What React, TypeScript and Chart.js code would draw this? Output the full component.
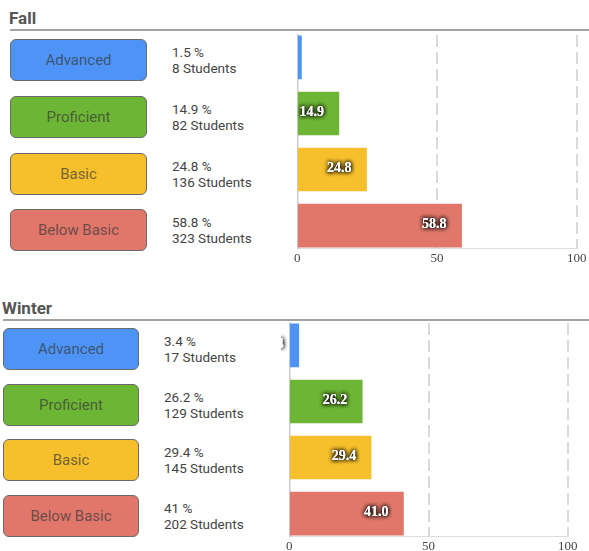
import React, { useEffect, useRef } from "react";
import { Chart, registerables } from "chart.js";

Chart.register(...registerables);

// Performance levels and their colours
const levels = ["Advanced", "Proficient", "Basic", "Below Basic"];
const levelColors = ["#4d94f6", "#6db535", "#f6c02c", "#e0776a"];

// Fall results
const fallPercent = [1.5, 14.9, 24.8, 58.8];
const fallStudents = [8, 82, 136, 323];

// Winter results
const winterPercent = [3.4, 26.2, 29.4, 41];
const winterStudents = [17, 129, 145, 202];

// Percentage axis
const axisMin = 0;
const axisMax = 100;
const axisStep = 50;

type Geometry = {
  headerLeft: number;
  headerTop: number;
  lineLeft: number;
  lineTop: number;
  buttonLeft: number;
  buttonWidth: number;
  buttonTop: number;
  buttonPitch: number;
  textLeft: number;
  canvasLeft: number;
  canvasTop: number;
  areaLeft: number;
  areaTop: number;
  areaRight: number;
  areaBottom: number;
};

const barValueLabels = {
  id: "barValueLabels",
  afterDatasetsDraw(chart: any) {
    const { ctx } = chart;
    const meta = chart.getDatasetMeta(0);
    const values = chart.data.datasets[0].data as { x: number; y: number }[];
    ctx.save();
    ctx.font = 'bold 14px "Liberation Serif", "Times New Roman", serif';
    ctx.textAlign = "right";
    ctx.textBaseline = "middle";
    ctx.fillStyle = "#ffffff";
    ctx.shadowColor = "rgba(0,0,0,0.9)";
    ctx.shadowBlur = 4;
    meta.data.forEach((bar: any, i: number) => {
      const label = values[i].x.toFixed(1);
      ctx.fillText(label, bar.x - 15, bar.y - 1);
      ctx.fillText(label, bar.x - 15, bar.y - 1);
      ctx.fillText(label, bar.x - 15, bar.y - 1);
    });
    ctx.restore();
  },
};

function LevelChart({ values, g }: { values: number[]; g: Geometry }) {
  const ref = useRef<HTMLCanvasElement>(null);
  const width = 589 - g.canvasLeft;
  const height = g.areaBottom - g.canvasTop + 22;

  useEffect(() => {
    if (!ref.current) return;
    const chart = new Chart(ref.current, {
      type: "bar",
      data: {
        datasets: [
          {
            data: values.map((v, i) => ({ x: v, y: i })),
            backgroundColor: levelColors,
            borderWidth: 0,
            barThickness: 43,
          },
        ],
      },
      plugins: [barValueLabels],
      options: {
        indexAxis: "y",
        responsive: false,
        animation: false,
        devicePixelRatio: 1,
        layout: {
          padding: {
            left: g.areaLeft - g.canvasLeft,
            top: g.areaTop - g.canvasTop,
            right: 589 - g.areaRight,
            bottom: 3.4,
          },
        },
        plugins: {
          legend: { display: false },
          tooltip: { enabled: false },
        },
        scales: {
          x: {
            type: "linear",
            min: axisMin,
            max: axisMax,
            ticks: {
              stepSize: axisStep,
              padding: 0,
              color: "#444",
              font: { family: '"Liberation Serif", "Times New Roman", serif', size: 13 },
            },
            grid: {
              drawTicks: true,
              tickLength: 3,
              tickColor: "rgba(0,0,0,0)",
              lineWidth: 2,
              color: (c: any) => (c.tick && c.tick.value === 0 ? "rgba(0,0,0,0)" : "#dadada"),
            },
            border: { display: true, color: "#dddddd", width: 1, dash: [12, 5] },
          },
          y: {
            type: "linear",
            min: -0.4,
            max: 3.4,
            reverse: true,
            offset: false,
            ticks: { display: false },
            grid: { display: false, drawTicks: false, offset: false },
            border: { display: true, color: "#cccccc", width: 1.5 },
          },
        },
      },
    });
    return () => chart.destroy();
  }, [values, g]);

  return (
    <canvas
      ref={ref}
      width={width}
      height={height}
      style={{
        position: "absolute",
        left: g.canvasLeft,
        top: g.canvasTop,
        width,
        height,
        display: "block",
      }}
    />
  );
}

function Section({
  title,
  percents,
  students,
  g,
}: {
  title: string;
  percents: number[];
  students: number[];
  g: Geometry;
}) {
  return (
    <>
      <div
        style={{
          position: "absolute",
          left: g.headerLeft,
          top: g.headerTop,
          font: 'bold 17px Roboto, "Noto Sans", sans-serif',
          lineHeight: "20px",
          color: "#555",
        }}
      >
        {title}
      </div>
      <div
        style={{
          position: "absolute",
          left: g.lineLeft,
          right: 0,
          top: g.lineTop,
          height: 2,
          background: "#a3a3a3",
        }}
      />
      {levels.map((lvl, i) => {
        const top = g.buttonTop + i * g.buttonPitch;
        return (
          <React.Fragment key={lvl}>
            <div
              style={{
                position: "absolute",
                left: g.buttonLeft,
                top,
                width: g.buttonWidth,
                height: 42,
                boxSizing: "border-box",
                border: "1.5px solid #6a6a6a",
                borderRadius: 6,
                background: levelColors[i],
                display: "flex",
                alignItems: "center",
                justifyContent: "center",
                font: '15px Roboto, "Noto Sans", sans-serif',
                color: "rgba(55,55,55,0.7)",
              }}
            >
              {lvl}
            </div>
            <div
              style={{
                position: "absolute",
                left: g.textLeft,
                top,
                height: 42,
                display: "flex",
                flexDirection: "column",
                justifyContent: "center",
                font: '13.5px Roboto, "Noto Sans", sans-serif',
                lineHeight: "16px",
                color: "#444",
              }}
            >
              <div>{`${percents[i]} %`}</div>
              <div>{`${students[i]} Students`}</div>
            </div>
          </React.Fragment>
        );
      })}
      <LevelChart values={percents} g={g} />
    </>
  );
}

const fallGeometry: Geometry = {
  headerLeft: 9,
  headerTop: 8,
  lineLeft: 10,
  lineTop: 28.5,
  buttonLeft: 10,
  buttonWidth: 137,
  buttonTop: 39.3,
  buttonPitch: 56.6,
  textLeft: 172,
  canvasLeft: 294,
  canvasTop: 25,
  areaLeft: 297,
  areaTop: 35,
  areaRight: 576.7,
  areaBottom: 248,
};

const winterGeometry: Geometry = {
  headerLeft: 2,
  headerTop: 298,
  lineLeft: 3,
  lineTop: 318.5,
  buttonLeft: 3,
  buttonWidth: 136,
  buttonTop: 327.7,
  buttonPitch: 55.8,
  textLeft: 164,
  canvasLeft: 281,
  canvasTop: 313,
  areaLeft: 289.3,
  areaTop: 323,
  areaRight: 567.7,
  areaBottom: 536,
};

export default function App() {
  return (
    <div
      style={{
        position: "absolute",
        left: 0,
        top: 0,
        width: 589,
        height: 551,
        overflow: "hidden",
        background: "#fff",
      }}
    >
      <Section title="Fall" percents={fallPercent} students={fallStudents} g={fallGeometry} />
      <Section title="Winter" percents={winterPercent} students={winterStudents} g={winterGeometry} />
    </div>
  );
}
